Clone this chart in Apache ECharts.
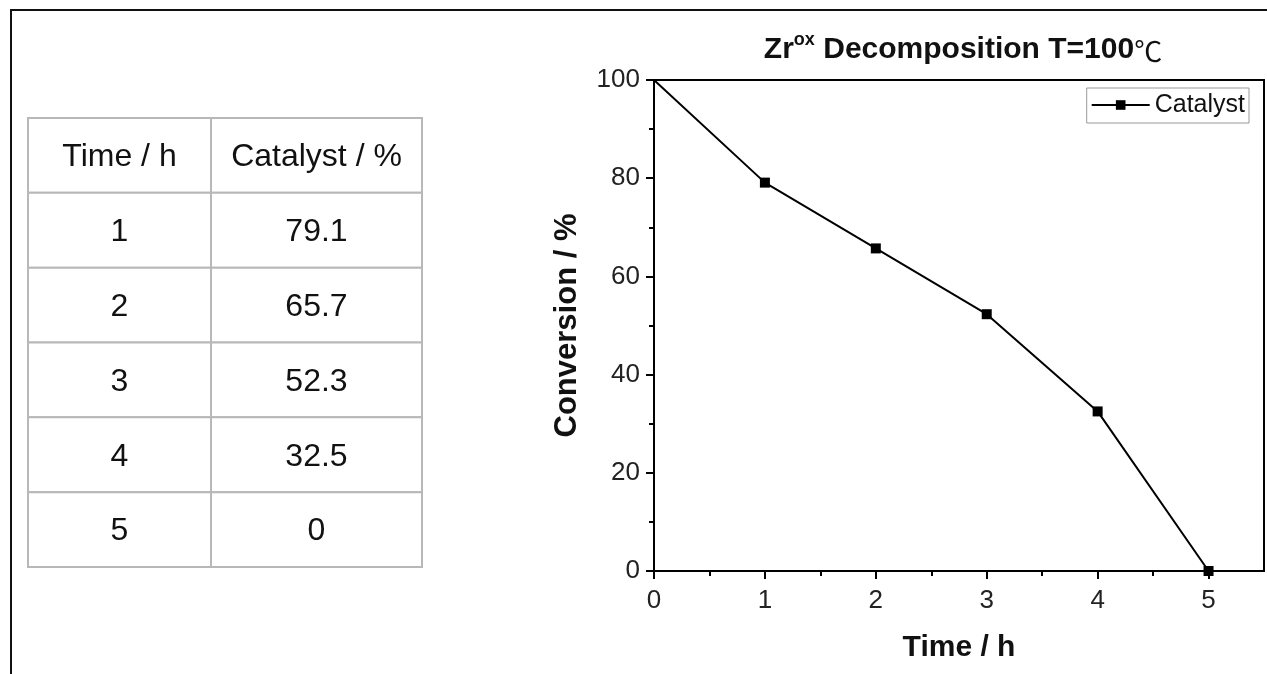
<!DOCTYPE html>
<html>
<head>
<meta charset="utf-8">
<script src="https://cdn.jsdelivr.net/npm/echarts@6/dist/echarts.min.js"></script>
<style>
html,body{margin:0;padding:0;background:#fff;}
#main{width:1267px;height:674px;}
</style>
</head>
<body>
<div id="main"></div>
<script>
// ---- data ----
const tableHeaders = ['Time / h', 'Catalyst / %'];
const tableTimes = ['1', '2', '3', '4', '5'];
const tableCatalyst = ['79.1', '65.7', '52.3', '32.5', '0'];
const chartTime = [0, 1, 2, 3, 4, 5];
const chartConversion = [100, 79.1, 65.7, 52.3, 32.5, 0];
const seriesName = 'Catalyst';
const xTicks = [0, 1, 2, 3, 4, 5];
const yTicks = [0, 20, 40, 60, 80, 100];

// ---- build ----
const FONT = 'Liberation Sans, Arial, sans-serif';
const tableRows = [tableHeaders].concat(tableTimes.map((t, i) => [t, tableCatalyst[i]]));
const rowNames = tableRows.map((r, i) => 'r' + i);
const cellData = [];
const cellText = [];
tableRows.forEach((row, r) => row.forEach((txt, c) => { cellData.push([c, r]); cellText.push(txt); }));
const colEdges = [0, 0.4645, 1];

const lineData = chartTime.map((t, i) => i === 0 ? { value: [t, chartConversion[i]], symbol: 'none' } : [t, chartConversion[i]]);

const chart = echarts.init(document.getElementById('main'));
chart.setOption({
  backgroundColor: '#fff',
  animation: false,
  textStyle: { fontFamily: FONT },
  graphic: [{
    type: 'rect', z: 100, silent: true,
    shape: { x: 11, y: 10, width: 1300, height: 700 },
    style: { fill: 'none', stroke: '#111', lineWidth: 2 }
  }],
  title: {
    left: 958, top: 26, textAlign: 'center',
    text: '{a|Zr}{s|ox}{a| Decomposition T=100}{c|℃}',
    textStyle: {
      rich: {
        a: { fontFamily: FONT, fontWeight: 'bold', fontSize: 30, color: '#111', verticalAlign: 'bottom', lineHeight: 34 },
        s: { fontFamily: FONT, fontWeight: 'bold', fontSize: 18, color: '#111', verticalAlign: 'top', lineHeight: 34, padding: [0, 0, 14, 0] },
        c: { fontFamily: 'Noto Sans CJK SC', fontWeight: 'normal', fontSize: 28, color: '#111', verticalAlign: 'bottom', lineHeight: 34 }
      }
    }
  },
  legend: {
    right: 18, top: 88,
    data: [seriesName],
    borderColor: '#999', borderWidth: 1, borderRadius: 0,
    padding: [4, 4, 5, 4],
    itemWidth: 58, itemHeight: 12, itemGap: 6,
    textStyle: { fontFamily: FONT, fontSize: 25, color: '#111', lineHeight: 26 }
  },
  grid: [
    { left: 654, top: 80, right: 3, bottom: 103, show: true, borderColor: '#000', borderWidth: 2, containLabel: false },
    { left: 28, top: 118, width: 394, height: 449, show: false }
  ],
  xAxis: [{
    gridIndex: 0, type: 'value', min: 0, max: 5.5, interval: 1,
    axisLine: { show: true, onZero: false, lineStyle: { color: '#000', width: 2 } },
    axisTick: { show: true, length: 8, customValues: xTicks, lineStyle: { color: '#000', width: 2 } },
    minorTick: { show: true, splitNumber: 2, length: 5, lineStyle: { color: '#000', width: 2 } },
    splitLine: { show: false },
    axisLabel: { show: true, fontFamily: FONT, fontSize: 26, color: '#222', margin: 17, customValues: xTicks },
    name: 'Time / h', nameLocation: 'middle', nameGap: 62,
    nameTextStyle: { fontFamily: FONT, fontWeight: 'bold', fontSize: 30, color: '#111' }
  }, {
    gridIndex: 1, type: 'value', min: 0, max: 1, show: false
  }],
  yAxis: [{
    gridIndex: 0, type: 'value', min: 0, max: 100, interval: 20,
    axisLine: { show: true, onZero: false, lineStyle: { color: '#000', width: 2 } },
    axisTick: { show: true, length: 8, lineStyle: { color: '#000', width: 2 } },
    minorTick: { show: true, splitNumber: 2, length: 5, lineStyle: { color: '#000', width: 2 } },
    splitLine: { show: false },
    axisLabel: { show: true, fontFamily: FONT, fontSize: 26, color: '#222', margin: 14,
      formatter: v => yTicks.indexOf(v) >= 0 ? String(v) : '' },
    name: 'Conversion / %', nameLocation: 'middle', nameGap: 71, nameRotate: 90,
    nameTextStyle: { fontFamily: FONT, fontWeight: 'bold', fontSize: 31, color: '#111' }
  }, {
    gridIndex: 1, type: 'category', data: rowNames, inverse: true, show: false
  }],
  series: [{
    name: seriesName, type: 'line', xAxisIndex: 0, yAxisIndex: 0,
    data: lineData,
    symbol: 'rect', symbolSize: 10,
    itemStyle: { color: '#000' },
    lineStyle: { color: '#000', width: 2 }
  }, {
    type: 'custom', xAxisIndex: 1, yAxisIndex: 1,
    data: cellData,
    renderItem: function (params, api) {
      const c = api.value(0), r = api.value(1);
      const p0 = api.coord([colEdges[c], r]);
      const p1 = api.coord([colEdges[c + 1], r]);
      const h = api.size([0, 1])[1];
      return {
        type: 'group',
        children: [{
          type: 'rect',
          shape: { x: p0[0], y: p0[1] - h / 2, width: p1[0] - p0[0], height: h },
          style: { fill: '#fff', stroke: '#b8b8b8', lineWidth: 2 }
        }, {
          type: 'text',
          style: {
            text: cellText[params.dataIndex],
            x: (p0[0] + p1[0]) / 2, y: p0[1] + 2,
            align: 'center', verticalAlign: 'middle',
            font: '32px ' + FONT, fill: '#111'
          }
        }]
      };
    }
  }]
});
</script>
</body>
</html>
